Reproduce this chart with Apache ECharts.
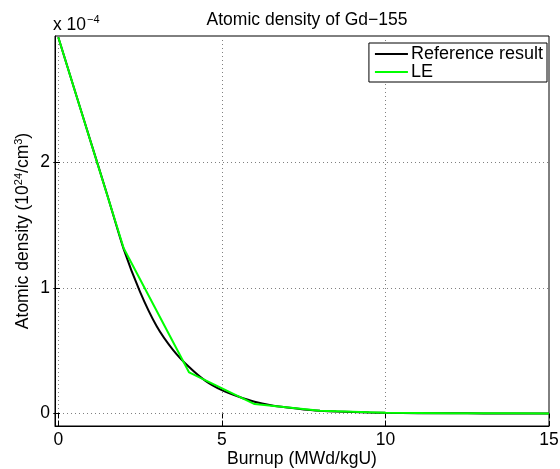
<!DOCTYPE html>
<html>
<head>
<meta charset="utf-8">
<script src="https://cdn.jsdelivr.net/npm/echarts@6/dist/echarts.min.js"></script>
<style>
  html, body { margin: 0; padding: 0; background: #fff; }
  #chart { width: 560px; height: 469px; }
</style>
</head>
<body>
<div id="chart"></div>
<script>
// burnup points (MWd/kgU) and Gd-155 density, in units of 1e-4 (10^24/cm^3)
var refBurnup = [0, 0.5, 1, 1.5, 2, 2.5, 3, 3.5, 4, 4.5, 5, 5.5, 6, 6.5, 7, 7.5, 8, 8.5, 9, 9.5, 10, 11, 12, 13, 14, 15];
var refDensity = [3.0, 2.58, 2.16, 1.74, 1.31, 0.97, 0.70, 0.51, 0.37, 0.26, 0.186, 0.135, 0.093, 0.065, 0.047, 0.032, 0.022, 0.015, 0.011, 0.007, 0.005, 0.002, 0.001, 0.0005, 0.0003, 0.0002];

var leBurnup = [0, 2, 4, 6, 8, 10, 12, 14, 15];
var leDensity = [3.0, 1.317, 0.327, 0.075, 0.022, 0.006, 0.002, 0.001, 0.0005];

var xTicks = [0, 5, 10, 15];
var yTicks = [0, 1, 2];

function pairs(xs, ys) {
    var out = [];
    for (var i = 0; i < xs.length; i++) {
        out.push([xs[i], ys[i]]);
    }
    return out;
}

var font = 'Liberation Sans, Arial, Helvetica, sans-serif';
var fs = 17.5;
var gridLine = { show: true, lineStyle: { color: '#808080', type: [1, 3], width: 1 } };

var chart = echarts.init(document.getElementById('chart'));

var option = {
    animation: false,
    backgroundColor: '#fff',
    title: {
        text: 'Atomic density of Gd\u2212155',
        left: 302,
        textAlign: 'center',
        top: 6,
        textStyle: { fontFamily: font, fontSize: fs, fontWeight: 'normal', color: '#000' }
    },
    legend: {
        orient: 'vertical',
        right: 13,
        top: 43,
        icon: 'rect',
        itemWidth: 33,
        itemHeight: 2,
        itemGap: 0,
        padding: [2, 4, 1, 6],
        borderColor: '#000',
        borderWidth: 1,
        borderRadius: 0,
        backgroundColor: '#fff',
        textStyle: { fontFamily: font, fontSize: 18, color: '#000', padding: [0, 0, 0, -2], lineHeight: 16 },
        data: ['Reference result', 'LE']
    },
    grid: {
        left: 55,
        right: 11,
        top: 36,
        bottom: 43,
        outerBoundsMode: 'none',
        show: true,
        borderColor: '#000',
        borderWidth: 1
    },
    xAxis: [
        {
            type: 'value',
            min: -0.1,
            max: 15,
            axisLine: { show: true, onZero: false, lineStyle: { color: '#000' } },
            axisTick: { show: true, inside: true, length: 5, customValues: xTicks, lineStyle: { color: '#000' } },
            axisLabel: { customValues: xTicks, fontFamily: font, fontSize: fs, color: '#000', margin: 5 },
            splitLine: gridLine,
            name: 'Burnup (MWd/kgU)',
            nameLocation: 'middle',
            nameGap: 24,
            nameMoveOverlap: false,
            nameTextStyle: { fontFamily: font, fontSize: fs, color: '#000' }
        },
        {
            type: 'value',
            position: 'top',
            min: -0.1,
            max: 15,
            axisLine: { show: false },
            axisTick: { show: true, inside: true, length: 5, customValues: xTicks, lineStyle: { color: '#000' } },
            axisLabel: { show: false },
            splitLine: { show: false }
        }
    ],
    yAxis: [
        {
            type: 'value',
            min: -0.1,
            max: 3.01,
            axisLine: { show: true, onZero: false, lineStyle: { color: '#000' } },
            axisTick: { show: true, inside: true, length: 5, customValues: yTicks, lineStyle: { color: '#000' } },
            axisLabel: { customValues: yTicks, fontFamily: font, fontSize: fs, color: '#000', margin: 5 },
            splitLine: gridLine,
            name: '{n|Atomic density (10}{s|24}{n|/cm}{s|3}{n|)}',
            nameLocation: 'middle',
            nameGap: 22,
            nameMoveOverlap: false,
            nameTextStyle: {
                fontFamily: font,
                color: '#000',
                rich: {
                    n: { fontFamily: font, fontSize: fs, color: '#000', height: 20, verticalAlign: 'bottom' },
                    s: { fontFamily: font, fontSize: 11, color: '#000', verticalAlign: 'top', padding: [0, 0, 7, 0] }
                }
            }
        },
        {
            type: 'value',
            position: 'right',
            min: -0.1,
            max: 3.01,
            axisLine: { show: false },
            axisTick: { show: true, inside: true, length: 5, customValues: yTicks, lineStyle: { color: '#000' } },
            axisLabel: { show: false },
            splitLine: { show: false }
        }
    ],
    graphic: [
        {
            type: 'text',
            left: 53,
            top: 14,
            style: {
                text: '{n|x 10}{s|\u22124}',
                rich: {
                    n: { fontFamily: font, fontSize: fs, fill: '#000', verticalAlign: 'bottom', height: 22 },
                    s: { fontFamily: font, fontSize: 11, fill: '#000', verticalAlign: 'top', padding: [0, 0, 9, 1] }
                }
            }
        }
    ],
    series: [
        {
            name: 'Reference result',
            type: 'line',
            symbol: 'none',
            smooth: 0.2,
            data: pairs(refBurnup, refDensity),
            lineStyle: { color: '#000', width: 2 },
            itemStyle: { color: '#000' }
        },
        {
            name: 'LE',
            type: 'line',
            symbol: 'none',
            data: pairs(leBurnup, leDensity),
            lineStyle: { color: '#00ff00', width: 2 },
            itemStyle: { color: '#00ff00' }
        }
    ]
};

chart.setOption(option);
</script>
</body>
</html>
